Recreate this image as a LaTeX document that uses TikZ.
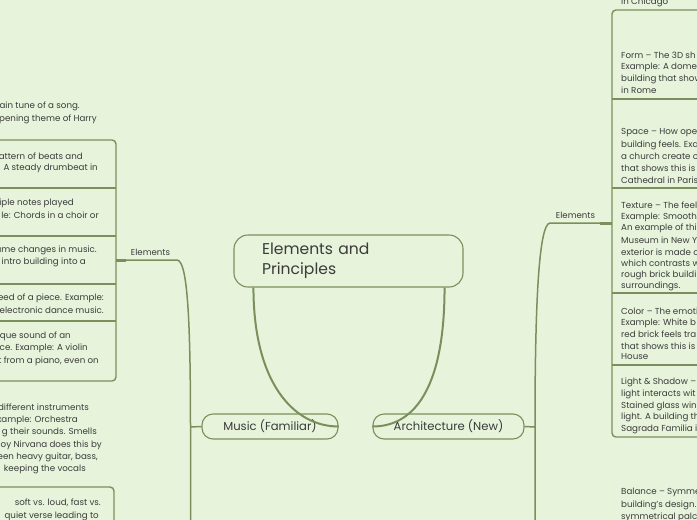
\documentclass[tikz,border=0pt]{standalone}
\usepackage{fontspec}
\setmainfont{Poppins}
\usetikzlibrary{calc}
\definecolor{bg}{HTML}{E7F4DB}
\definecolor{ln}{HTML}{7B8F5C}
\definecolor{tx}{HTML}{3B3B3B}
\begin{document}
\begin{tikzpicture}[x=1pt,y=-1pt,
  lt/.style={font=\fontsize{8.7}{10}\selectfont, text=tx, inner sep=0, anchor=east},
  rt/.style={font=\fontsize{8.7}{10}\selectfont, text=tx, inner sep=0, anchor=west},
  lab/.style={font=\fontsize{8.6}{10}\selectfont, text=tx, inner sep=0},
  bline/.style={draw=ln, line width=1.4},
  cline/.style={draw=ln, line width=1.5},
  mline/.style={draw=ln, line width=2},
  stub/.style={draw=ln, line width=3},
  topic/.style={draw=ln, line width=1.1, fill=bg, rounded corners=11, minimum height=25, inner sep=0, font=\fontsize{11.6}{13}\selectfont, text=tx}
]
\fill[bg] (0,0) rectangle (697,520);
\useasboundingbox (0,0) rectangle (697,520);

% ---- left boundary (Music elements)
\draw[bline, rounded corners=4] (-5,140) -- (116,140) -- (116,381) -- (-5,381);
\foreach \yy in {188,236,284,321} \draw[bline] (-5,\yy) -- (116,\yy);
\draw[bline, rounded corners=4] (-5,487) -- (114,487) -- (114,530);

% ---- right boundary (Architecture elements)
\draw[bline, rounded corners=4] (705,10) -- (612,10) -- (612,437) -- (705,437);
\foreach \yy in {99,188,293,365} \draw[bline] (612,\yy) -- (705,\yy);

% ---- central + topics
\node[draw=ln, line width=1.1, fill=bg, rounded corners=14, minimum width=229, minimum height=52,
      inner xsep=28, inner ysep=0, text width=173, align=left,
      font=\fontsize{15.6}{20}\selectfont, text=tx] (ep) at (348.5,261) {Elements and\\Principles};
\node[topic, minimum width=136] (mus) at (270,426.5) {Music (Familiar)};
\node[topic, minimum width=151] (arc) at (448.5,426.5) {Architecture (New)};

\draw[mline] ($(ep.south west)+(20,0)$) .. controls +(0,95) and +(-45,0) .. (mus.east);
\draw[mline] ($(ep.south east)+(-19,0)$) .. controls +(0,95) and +(45,0) .. (arc.west);

% ---- left tree
\coordinate (lstubA) at (116,260);
\coordinate (lstubB) at (126,260);
\coordinate (lbend) at (177,260);
\coordinate (ljoin) at (190.5,427);
\coordinate (lend) at (190.5,525);
\draw[stub] (lstubA) -- (lstubB);
\draw[cline] (lstubB) -- (lbend) .. controls (186,261) and (190.5,300) .. (ljoin) -- (lend);
\draw[cline] (mus.west) -- (ljoin);
\node[lab] (lel) at (150.5,252) {Elements};

% ---- right tree
\coordinate (rstubA) at (612,223);
\coordinate (rstubB) at (600,223);
\coordinate (rbend) at (550,223);
\coordinate (rjoin) at (535,427);
\coordinate (rend) at (535,525);
\draw[stub] (rstubA) -- (rstubB);
\draw[cline] (rstubB) -- (rbend) .. controls (539,224) and (535,300) .. (rjoin) -- (rend);
\draw[cline] (arc.east) -- (rjoin);
\node[lab] (rel) at (575.5,215) {Elements};

% ---- left texts
\node[lt] (m1a) at (80,106) {ain tune of a song.};
\node[lt] (m1b) at (97,119) {pening theme of Harry};
\node[lt] (m2a) at (83,156) {attern of beats and};
\node[lt] (m2b) at (98,168) {: A steady drumbeat in};
\node[lt] (m3a) at (74,203) {iple notes played};
\node[lt] (m3b) at (99,215) {le: Chords in a choir or};
\node[lt] (m4a) at (97,250) {ume changes in music.};
\node[lt] (m4b) at (86,262) {intro building into a};
\node[lt] (m5a) at (104,298) {eed of a piece. Example:};
\node[lt] (m5b) at (104,310) {electronic dance music.};
\node[lt] (m6a) at (71,336) {ique sound of an};
\node[lt] (m6b) at (88,348) {ce. Example: A violin};
\node[lt] (m6c) at (99,361) {t from a piano, even on};
\node[lt] (m7a) at (89,407) {different instruments};
\node[lt] (m7b) at (78,420) {xample: Orchestra};
\node[lt] (m7c) at (97,432) {g their sounds. Smells};
\node[lt] (m7d) at (102,445) {oy Nirvana does this by};
\node[lt] (m7e) at (98,457) {een heavy guitar, bass,};
\node[lt] (m7f) at (86,469) {keeping the vocals};
\node[lt] (m8a) at (101,503) {soft vs. loud, fast vs.};
\node[lt] (m8b) at (99,516) {quiet verse leading to};

% ---- right texts
\node[rt] (a0) at (621,2) {in Chicago};
\node[rt] (f1) at (621,55) {Form – The 3D sh};
\node[rt] (f2) at (621,67) {Example: A dome};
\node[rt] (f3) at (621,79) {building that show};
\node[rt] (f4) at (621,90) {in Rome};
\node[rt] (s1) at (621,133) {Space – How oper};
\node[rt] (s2) at (621,145) {building feels. Exa};
\node[rt] (s3) at (621,156) {a church create o};
\node[rt] (s4) at (621,168) {that shows this is};
\node[rt] (s5) at (621,180) {Cathedral in Paris};
\node[rt] (t1) at (621,205) {Texture – The feel};
\node[rt] (t2) at (621,217) {Example: Smooth};
\node[rt] (t3) at (621,228) {An example of thi};
\node[rt] (t4) at (621,240) {Museum in New Y};
\node[rt] (t5) at (621,252) {exterior is made o};
\node[rt] (t6) at (621,263) {which contrasts w};
\node[rt] (t7) at (621,275) {rough brick buildi};
\node[rt] (t8) at (621,286) {surroundings.};
\node[rt] (c1) at (621,311) {Color – The emoti};
\node[rt] (c2) at (621,323) {Example: White b};
\node[rt] (c3) at (621,334) {red brick feels tra};
\node[rt] (c4) at (621,346) {that shows this is};
\node[rt] (c5) at (621,357) {House};
\node[rt] (l1) at (621,382) {Light \& Shadow –};
\node[rt] (l2) at (621,394) {light interacts wit};
\node[rt] (l3) at (621,406) {Stained glass win};
\node[rt] (l4) at (621,417) {light. A building th};
\node[rt] (l5) at (621,429) {Sagrada Familia i};
\node[rt] (b1) at (621,492) {Balance – Symme};
\node[rt] (b2) at (621,505) {building's design.};
\node[rt] (b3) at (621,517) {symmetrical palc};
\end{tikzpicture}
\end{document}
